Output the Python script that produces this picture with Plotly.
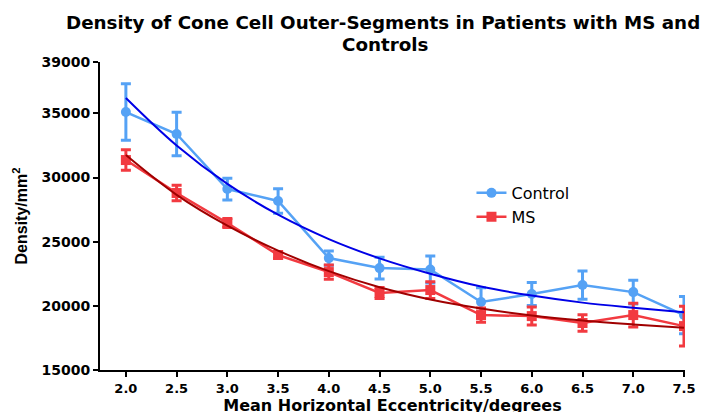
import plotly.graph_objects as go

eccentricity = [2.0, 2.5, 3.0, 3.5, 4.0, 4.5, 5.0, 5.5, 6.0, 6.5, 7.0, 7.5]
tick_labels = ["2.0", "2.5", "3.0", "3.5", "4.0", "4.5", "5.0", "5.5", "6.0", "6.5", "7.0", "7.5"]

control_mean = [35100, 33390, 29100, 28170, 23720, 22940, 22830, 20300, 20920, 21620, 21070, 19280]
control_err = [2200, 1700, 850, 950, 550, 850, 1050, 1100, 900, 1100, 930, 1450]

ms_mean = [31360, 28790, 26450, 23960, 22630, 21000, 21230, 19280, 19200, 18660, 19280, 18420]
ms_err = [800, 600, 350, 250, 550, 430, 650, 550, 700, 650, 930, 1550]

control_fit = [36200, 32500, 29500, 27100, 25200, 23700, 22500, 21500, 20800, 20250, 19850, 19500]
ms_fit = [31750, 28650, 26250, 24300, 22700, 21450, 20500, 19800, 19250, 18850, 18550, 18300]

y_ticks = [15000, 20000, 25000, 30000, 35000, 39000]
y_tick_labels = ["15000", "20000", "25000", "30000", "35000", "39000"]

C_CTRL = "#55a2f5"
C_MS = "#f23a40"

fig = go.Figure()

fig.add_trace(go.Scatter(
    x=eccentricity, y=control_mean, name="Control", mode="lines+markers",
    line=dict(color=C_CTRL, width=2.5),
    marker=dict(symbol="circle", size=10, color=C_CTRL),
    error_y=dict(type="data", array=control_err, visible=True, color=C_CTRL, thickness=3, width=5),
))
fig.add_trace(go.Scatter(
    x=eccentricity, y=ms_mean, name="MS", mode="lines+markers",
    line=dict(color=C_MS, width=2.5),
    marker=dict(symbol="square", size=10, color=C_MS),
    error_y=dict(type="data", array=ms_err, visible=True, color=C_MS, thickness=3, width=5),
))
fig.add_trace(go.Scatter(
    x=eccentricity, y=control_fit, mode="lines", showlegend=False,
    line=dict(color="#0000e6", width=2, shape="spline"), hoverinfo="skip",
))
fig.add_trace(go.Scatter(
    x=eccentricity, y=ms_fit, mode="lines", showlegend=False,
    line=dict(color="#a00000", width=2, shape="spline"), hoverinfo="skip",
))

WIDE = "DejaVu Sans"
ARIAL = "Liberation Sans, Arial"

fig.update_layout(
    width=711, height=412,
    margin=dict(l=92, r=34, t=54, b=50, autoexpand=False),
    paper_bgcolor="white", plot_bgcolor="white",
    legend=dict(
        x=0.635, y=0.63, xanchor="left", yanchor="top",
        font=dict(family=WIDE, size=16, color="black"),
        bgcolor="rgba(0,0,0,0)", tracegroupgap=0,
    ),
    showlegend=True,
    annotations=[
        dict(text="<b>Density of Cone Cell Outer-Segments in Patients with MS and</b>",
             xref="paper", yref="paper", x=0.484, y=1.0, xanchor="center", yanchor="bottom",
             yshift=27, showarrow=False, font=dict(family=WIDE, size=18.3, color="black")),
        dict(text="<b>Controls</b>",
             xref="paper", yref="paper", x=0.488, y=1.0, xanchor="center", yanchor="bottom",
             yshift=5, showarrow=False, font=dict(family=WIDE, size=18.3, color="black")),
    ],
)

fig.update_xaxes(
    range=[1.745, 7.51], tickmode="array", tickvals=eccentricity,
    ticktext=["<b>%s</b>" % t for t in tick_labels],
    showgrid=False, zeroline=False, showline=True, linecolor="black", linewidth=2,
    ticks="outside", ticklen=5, tickwidth=2, tickcolor="black", automargin=False,
    tickfont=dict(family=WIDE, size=13, color="black"),
    title=dict(text="<b>Mean Horizontal Eccentricity/degrees</b>",
               font=dict(family=WIDE, size=16, color="black"), standoff=4),
)
fig.update_yaxes(
    range=[15000, 39000], tickmode="array", tickvals=y_ticks,
    ticktext=["<b>%s</b>" % t for t in y_tick_labels],
    showgrid=False, zeroline=False, showline=True, linecolor="black", linewidth=2,
    ticks="outside", ticklen=5, tickwidth=2, tickcolor="black", automargin=False,
    tickfont=dict(family=WIDE, size=14, color="black"),
    title=dict(text="<b>Density/mm<sup>2</sup></b>",
               font=dict(family=ARIAL, size=16, color="black"), standoff=10),
)

fig.write_html("out.html")
